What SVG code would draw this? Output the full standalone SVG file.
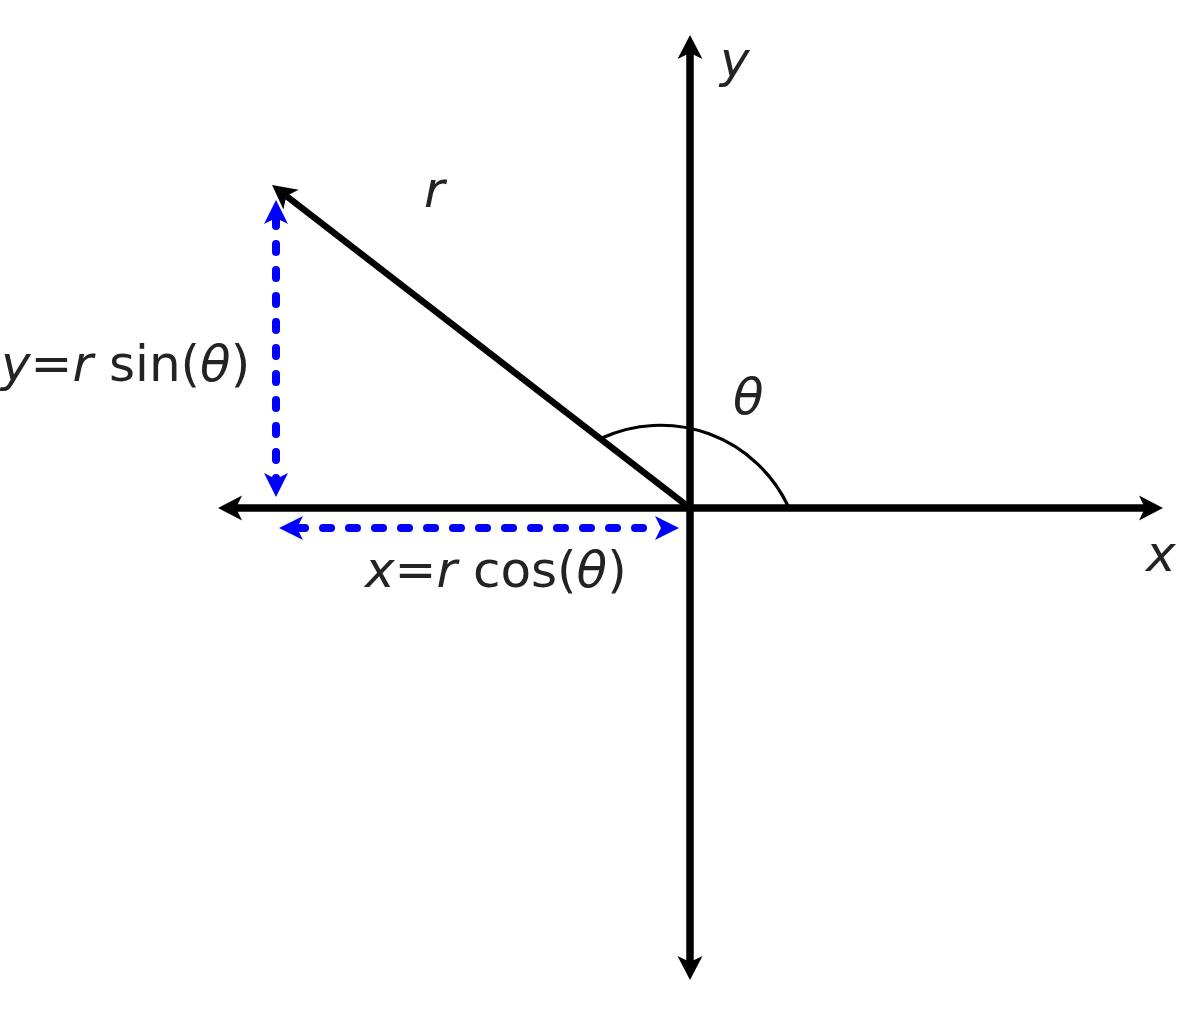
<svg xmlns="http://www.w3.org/2000/svg" width="1199" height="1016" viewBox="0 0 1199 1016">
<style>
.ax{stroke:#000;stroke-width:7.5;fill:none}
.bl{stroke:#0000ff;stroke-width:8;fill:none;stroke-linecap:round;stroke-dasharray:8 18}
.t{font-family:"DejaVu Sans",sans-serif;font-size:50px;fill:#232323}
.i{font-style:italic}
</style>
<defs>
<marker id="ak" markerUnits="userSpaceOnUse" viewBox="-8 -14 28 28" refX="0" refY="0" markerWidth="28" markerHeight="28" orient="auto-start-reverse">
<path d="M18 0 L-6 -12.5 L0 0 L-6 12.5 Z" fill="#000"/>
</marker>
<marker id="ab" markerUnits="userSpaceOnUse" viewBox="-8 -14 28 28" refX="0" refY="0" markerWidth="28" markerHeight="28" orient="auto-start-reverse">
<path d="M18 0 L-6 -12 L0 0 L-6 12 Z" fill="#0000ff"/>
</marker>
</defs>
<g id="connectors">
<line class="ax" x1="236" y1="508" x2="1145" y2="508" marker-start="url(#ak)" marker-end="url(#ak)"/>
<line class="ax" x1="690" y1="962" x2="690" y2="53" marker-start="url(#ak)" marker-end="url(#ak)"/>
<line x1="690" y1="508" x2="286.3" y2="196" stroke="#000" stroke-width="6.5" marker-end="url(#ak)"/>
<path d="M602 438 A141 141 0 0 1 788 506" fill="none" stroke="#000" stroke-width="3.2"/>
<line class="bl" x1="276" y1="218" x2="276" y2="479" marker-start="url(#ab)" marker-end="url(#ab)"/>
<line class="bl" x1="297" y1="528" x2="661" y2="528" marker-start="url(#ab)" marker-end="url(#ab)"/>
</g>
<g id="labels">
<text class="t i" x="720" y="77">y</text>
<text class="t i" x="1146" y="571">x</text>
<text class="t i" x="424" y="207">r</text>
<text class="t i" x="733" y="414">θ</text>
<text class="t" x="1" y="381"><tspan class="i">y</tspan>=<tspan class="i">r</tspan> sin(<tspan class="i">θ</tspan>)</text>
<text class="t" x="365" y="587"><tspan class="i">x</tspan>=<tspan class="i">r</tspan> cos(<tspan class="i">θ</tspan>)</text>
</g>
</svg>
